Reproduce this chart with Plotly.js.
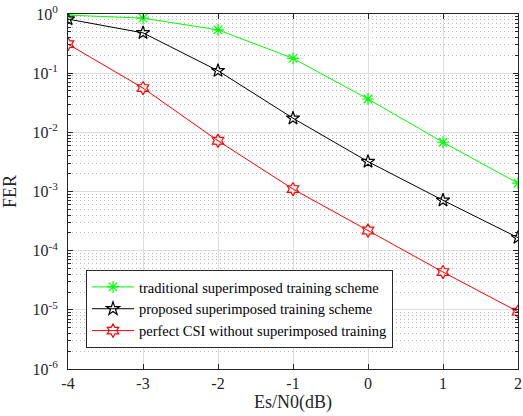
<!DOCTYPE html>
<html>
<head>
<meta charset="utf-8">
<script src="https://cdn.plot.ly/plotly-3.0.1.min.js"></script>
<style>
  html, body { margin: 0; padding: 0; background: #fff; }
  #chart { width: 523px; height: 416px; }
</style>
</head>
<body>
<div id="chart"></div>
<script>
// SNR points (dB)
const snr = [-4, -3, -2, -1, 0, 1, 2];

// Frame error rates for each scheme
const ferTraditional = [0.96, 0.85, 0.54, 0.178, 0.0366, 0.0068, 0.00138];
const ferProposed    = [0.82, 0.48, 0.110, 0.0173, 0.0032, 0.00071, 0.000166];
const ferPerfectCSI  = [0.31, 0.056, 0.0072, 0.0011, 0.000219, 0.0000435, 0.0000093];

const seriesNames = [
  'traditional superimposed training scheme',
  'proposed superimposed training scheme',
  'perfect CSI without superimposed training'
];

// Decade tick labels for the log y axis
const yTickExp = [-6, -5, -4, -3, -2, -1, 0];
const yTickVals = yTickExp.map(e => Math.pow(10, e));
const yTickText = yTickExp.map(e => '10<sup>' + e + '</sup>');

// x tick labels use a plain hyphen for negatives
const xTickVals = [-4, -3, -2, -1, 0, 1, 2];
const xTickText = ['-4', '-3', '-2', '-1', '0', '1', '2'];

const font = 'Liberation Serif, Times New Roman, serif';

function trace(y, name, color, symbol, size) {
  return {
    x: snr, y: y, name: name, type: 'scatter', mode: 'lines+markers',
    line: { color: color, width: 1 },
    marker: { symbol: symbol, size: size, color: color,
              line: { color: color, width: 1.2 } }
  };
}

const data = [
  trace(ferTraditional, seriesNames[0], '#00ff00', 'asterisk-open', 10),
  trace(ferProposed,    seriesNames[1], '#000000', 'star-open', 10),
  trace(ferPerfectCSI,  seriesNames[2], '#ff0000', 'hexagram-open', 10)
];

const axisColor = '#262626';

const layout = {
  width: 523, height: 416,
  margin: { l: 68, r: 5, t: 14, b: 47 },
  paper_bgcolor: '#fff', plot_bgcolor: '#fff',
  font: { family: font, size: 15, color: '#262626' },
  showlegend: true,
  legend: {
    x: 0.04, y: 0.279, xanchor: 'left', yanchor: 'top',
    bgcolor: '#fff', bordercolor: '#262626', borderwidth: 1,
    font: { family: font, size: 14.5, color: '#000' },
    itemwidth: 42, tracegroupgap: 0
  },
  xaxis: {
    range: [-4, 2], tickvals: xTickVals, ticktext: xTickText,
    ticks: 'inside', ticklen: 5, tickcolor: axisColor,
    showline: true, linecolor: axisColor, linewidth: 1, mirror: 'ticks',
    showgrid: true, gridcolor: '#dddddd', gridwidth: 1,
    zeroline: false,
    tickfont: { family: font, size: 16, color: '#262626' },
    title: { text: 'Es/N0(dB)', font: { family: font, size: 18, color: '#262626' }, standoff: 4 }
  },
  yaxis: {
    type: 'log', range: [-6, 0],
    tickvals: yTickVals, ticktext: yTickText,
    ticks: 'inside', ticklen: 5, tickcolor: axisColor,
    ticklabelstandoff: 6,
    showline: true, linecolor: axisColor, linewidth: 1, mirror: 'allticks',
    showgrid: true, gridcolor: '#dddddd', gridwidth: 1,
    zeroline: false,
    minor: {
      dtick: 'D1', ticks: 'inside', ticklen: 3, tickcolor: axisColor,
      showgrid: true, gridcolor: '#b8b8b8', griddash: '1px,3px', gridwidth: 1
    },
    tickfont: { family: font, size: 16, color: '#262626' },
    title: { text: 'FER', font: { family: font, size: 18, color: '#262626' }, standoff: 12 }
  }
};

Plotly.newPlot('chart', data, layout, { displayModeBar: false, staticPlot: true });
</script>
</body>
</html>
